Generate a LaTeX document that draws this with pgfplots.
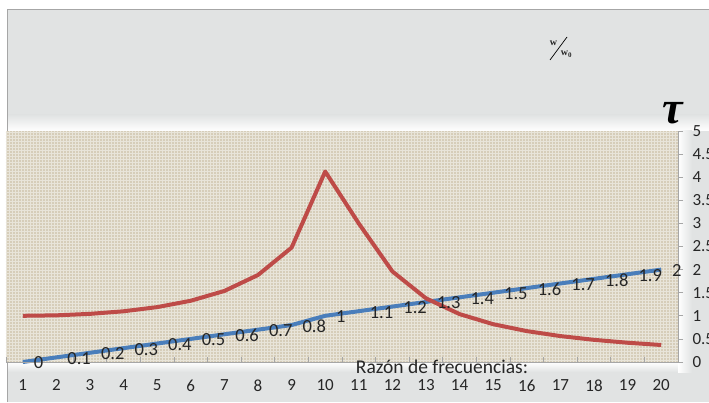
\documentclass[border=0pt]{standalone}
\usepackage{fontspec}
\setmainfont{Carlito}
\newfontfamily\seriffont{Liberation Serif}
\usepackage{pgfplots}
\pgfplotsset{compat=1.18}
\usetikzlibrary{patterns}
\definecolor{bggray}{HTML}{E1E3E3}
\definecolor{beige}{HTML}{D6CDB9}
\definecolor{exblue}{HTML}{4A7EBB}
\definecolor{exred}{HTML}{BE4B48}
\definecolor{axgray}{HTML}{A6A6A6}
\definecolor{txt}{HTML}{262626}
\begin{document}
\begin{tikzpicture}[x=1pt,y=1pt]
\path[use as bounding box] (0,0) rectangle (709,402);
\fill[white] (0,0) rectangle (709,402);
\fill[bggray] (7,0) rectangle (709,393);
\shade[top color=bggray, bottom color=white] (8,271) rectangle (709,287);
\shade[top color=white, bottom color=bggray] (8,30) rectangle (678,40);
\shade[left color=white, right color=bggray] (678,30) rectangle (692,271);
\draw[axgray, line width=0.8] (7,0) -- (7,393) -- (709,393);
\begin{axis}[
  at={(6pt,40pt)}, anchor=south west,
  width=672pt, height=231pt, scale only axis,
  xmin=0.5, xmax=20.5, ymin=0, ymax=5,
  clip=false,
  axis line style={draw=none},
  axis background/.style={fill=beige, postaction={pattern=grid, pattern color=white!45!beige}},
  xtick={1,...,20},
  minor xtick={0.5,1.5,...,20.5},
  xtick pos=bottom,
  major x tick style={draw=none},
  minor x tick style={draw=axgray, line width=0.8pt},
  minor tick length=5pt,
  ytick={0,0.5,...,5},
  ytick pos=right, yticklabel pos=right,
  tick align=inside,
  major tick length=5pt,
  ytick style={draw=axgray, line width=0.8pt, xshift=5pt},
  /pgf/number format/assume math mode=true,
  xticklabel style={font=\fontsize{17}{17}\selectfont, text=txt, yshift=-14pt},
  yticklabel style={font=\fontsize{17}{17}\selectfont, text=txt, anchor=west, xshift=11pt},
]
\addplot[exblue, line width=4pt, line join=round,
  nodes near coords, point meta=explicit symbolic,
  nodes near coords style={anchor=west, xshift=8pt, yshift=-1pt, inner sep=1pt, text=txt, font=\fontsize{18.5}{18.5}\selectfont}]
coordinates {
(1,0)[0] (2,0.1)[0.1] (3,0.2)[0.2] (4,0.3)[0.3] (5,0.4)[0.4] (6,0.5)[0.5]
(7,0.6)[0.6] (8,0.7)[0.7] (9,0.8)[0.8] (10,1)[1] (11,1.1)[1.1] (12,1.2)[1.2]
(13,1.3)[1.3] (14,1.4)[1.4] (15,1.5)[1.5] (16,1.6)[1.6] (17,1.7)[1.7]
(18,1.8)[1.8] (19,1.9)[1.9] (20,2)[2]
};
\addplot[exred, line width=4pt, line join=round] coordinates {
(1,1.000) (2,1.010) (3,1.042) (4,1.098) (5,1.188) (6,1.326) (7,1.538)
(8,1.883) (9,2.476) (10,4.123) (11,2.998) (12,1.960) (13,1.378) (14,1.037)
(15,0.818) (16,0.669) (17,0.561) (18,0.480) (19,0.417) (20,0.368)
};
\draw[axgray, line width=0.8pt] (rel axis cs:0,0) -- (rel axis cs:1,0) -- (rel axis cs:1,1);
\end{axis}
\node[text=txt, font=\fontsize{19.5}{19.5}\selectfont] at (442,35) {Razón de frecuencias:};
\node[text=black, font=\seriffont\bfseries\itshape\fontsize{46}{46}\selectfont] at (673,289) {τ};
\node[text=txt, inner sep=0pt, font=\seriffont\bfseries\fontsize{10}{10}\selectfont] at (553.5,358.5) {w};
\node[text=txt, inner sep=0pt, font=\seriffont\bfseries\fontsize{10}{10}\selectfont] at (566.5,348) {w\textsubscript{0}};
\draw[black, line width=0.7pt] (550,342) -- (567,365);
\end{tikzpicture}
\end{document}
